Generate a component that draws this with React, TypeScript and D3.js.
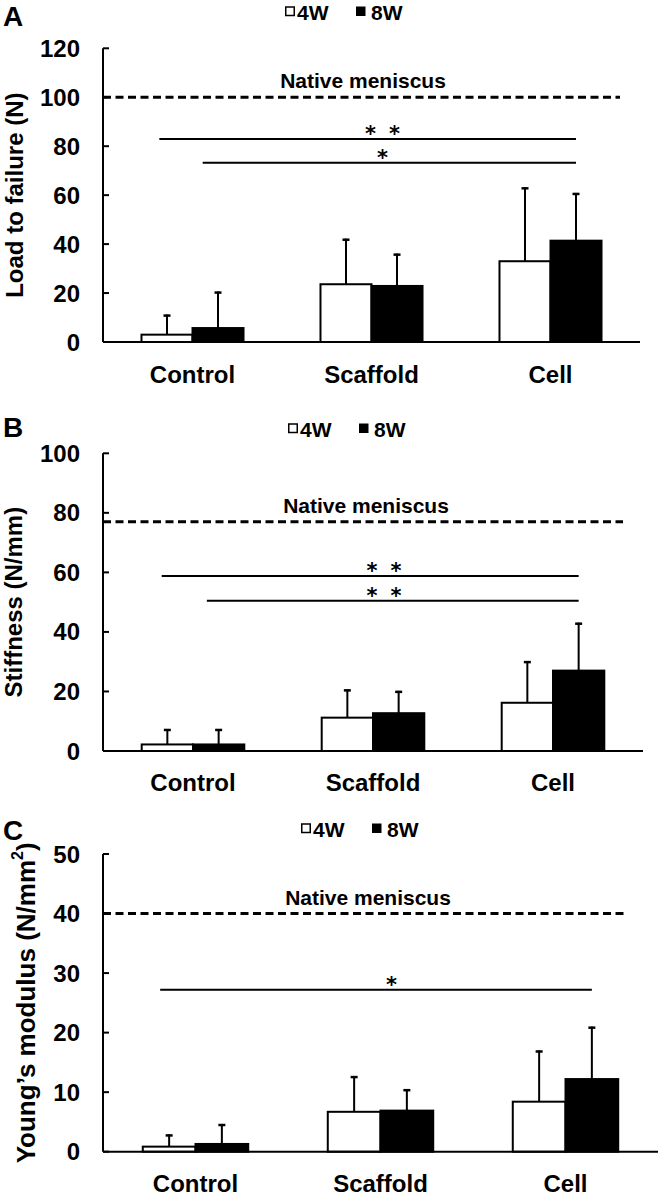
import React from "react";
import * as d3 from "d3";

// ---------- data ----------
const categories = ["Control", "Scaffold", "Cell"];
const seriesNames = ["4W", "8W"];

// Panel A: Load to failure (N)
const loadMean4W = [3.0, 23.6, 33.0];
const loadErr4W = [8.2, 18.6, 30.2];
const loadMean8W = [5.7, 22.9, 41.4];
const loadErr8W = [14.9, 13.2, 19.5];
const loadNative = 100;
const loadTicks = [0, 20, 40, 60, 80, 100, 120];
const loadSig = [
  { value: 82.9, stars: 2, fromCat: "Control", fromSeries: "4W", fromOff: 0.35 },
  { value: 73.2, stars: 1, fromCat: "Control", fromSeries: "8W", fromOff: 0.2 },
];

// Panel B: Stiffness (N/mm)
const stiffMean4W = [2.2, 11.2, 16.2];
const stiffErr4W = [5.2, 9.5, 14.0];
const stiffMean8W = [2.2, 12.7, 27.0];
const stiffErr8W = [5.2, 7.5, 16.1];
const stiffNative = 77;
const stiffTicks = [0, 20, 40, 60, 80, 100];
const stiffSig = [
  { value: 58.8, stars: 2, fromCat: "Control", fromSeries: "4W", fromOff: 0.39 },
  { value: 50.5, stars: 2, fromCat: "Control", fromSeries: "8W", fromOff: 0.27 },
];

// Panel C: Young's modulus (N/mm2)
const youngMean4W = [0.85, 6.7, 8.4];
const youngErr4W = [2.05, 6.0, 8.6];
const youngMean8W = [1.3, 6.9, 12.2];
const youngErr8W = [3.35, 3.6, 8.8];
const youngNative = 40;
const youngTicks = [0, 10, 20, 30, 40, 50];
const youngSig = [
  { value: 27.2, stars: 1, fromCat: "Control", fromSeries: "4W", fromOff: 0.33 },
];

const FONT = "'Liberation Sans', Arial, Helvetica, sans-serif";
const STAR_FONT = "'DejaVu Sans', 'Liberation Sans', sans-serif";

type Sig = { value: number; stars: number; fromCat: string; fromSeries: string; fromOff: number };

type PanelProps = {
  letter: string;
  letterY: number;
  legendY: number;
  legendX: number;
  title: React.ReactNode;
  titleX: number;
  titleSize: number;
  yTop: number;
  yBottom: number;
  xEnd: number;
  yMax: number;
  ticks: number[];
  mean4: number[];
  err4: number[];
  mean8: number[];
  err8: number[];
  native: number;
  nativeEnd: number;
  nativeLabelX: number;
  sig: Sig[];
  catLabelDy: number;
};

const AXIS_X = 103;

function Panel(p: PanelProps) {
  const y = d3.scaleLinear().domain([0, p.yMax]).range([p.yBottom, p.yTop]);
  const x0 = d3
    .scaleBand<string>()
    .domain(categories)
    .range([AXIS_X, p.xEnd])
    .paddingInner(0.43)
    .paddingOuter(0.215);
  const x1 = d3.scaleBand<string>().domain(seriesNames).range([0, x0.bandwidth()]);
  const bw = x1.bandwidth();

  const series = [
    { name: "4W", mean: p.mean4, err: p.err4, fill: "#fff" },
    { name: "8W", mean: p.mean8, err: p.err8, fill: "#000" },
  ];

  const endX = (x0("Cell") as number) + (x1("8W") as number) + bw / 2;
  const starCenter = (x0("Scaffold") as number) + x0.bandwidth() / 2 + 11;

  return (
    <g fontFamily={FONT} fontWeight="bold">
      {/* panel letter */}
      <text x={3} y={p.letterY} fontSize={28}>
        {p.letter}
      </text>
      {/* legend */}
      <g transform={`translate(${p.legendX},${p.legendY})`}>
        <rect x={0.75} y={-13} width={8.5} height={8.5} fill="#fff" stroke="#000" strokeWidth={1.5} />
        <text x={12} y={0} fontSize={21}>
          4W
        </text>
        <rect x={71} y={-13.5} width={9.5} height={9.5} fill="#000" />
        <text x={86} y={0} fontSize={21}>
          8W
        </text>
      </g>
      {/* y axis title */}
      <text
        transform={`translate(${p.titleX},${(p.yTop + p.yBottom) / 2}) rotate(-90)`}
        textAnchor="middle"
        dominantBaseline="central"
        fontSize={p.titleSize}
      >
        {p.title}
      </text>
      {/* y axis */}
      <line x1={AXIS_X} x2={AXIS_X} y1={y(p.yMax)} y2={y(0)} stroke="#000" strokeWidth={2} />
      {p.ticks.map((t) => (
        <g key={t}>
          <line x1={AXIS_X} x2={AXIS_X + 6} y1={y(t)} y2={y(t)} stroke="#000" strokeWidth={2} />
          <text x={80} y={y(t)} textAnchor="end" dominantBaseline="central" fontSize={24}>
            {t}
          </text>
        </g>
      ))}
      {/* native meniscus */}
      <line
        x1={AXIS_X}
        x2={p.nativeEnd}
        y1={y(p.native)}
        y2={y(p.native)}
        stroke="#000"
        strokeWidth={3}
        strokeDasharray="8,4.5"
      />
      <text x={p.nativeLabelX} y={y(p.native) - 9} textAnchor="middle" fontSize={21}>
        Native meniscus
      </text>
      {/* significance */}
      {p.sig.map((s, i) => {
        const sx = (x0(s.fromCat) as number) + (x1(s.fromSeries) as number) + bw * s.fromOff;
        const yy = y(s.value);
        const starXs = s.stars === 2 ? [starCenter - 12, starCenter + 12] : [starCenter];
        return (
          <g key={i}>
            <line x1={sx} x2={endX} y1={yy} y2={yy} stroke="#000" strokeWidth={2} />
            {starXs.map((sxx, j) => (
              <text
                key={j}
                x={sxx}
                y={yy + 2}
                textAnchor="middle"
                fontSize={21}
                fontFamily={STAR_FONT}
              >
                *
              </text>
            ))}
          </g>
        );
      })}
      {/* bars + error bars */}
      {series.map((s) =>
        categories.map((c, i) => {
          const bx = (x0(c) as number) + (x1(s.name) as number);
          const top = y(s.mean[i]);
          const et = y(s.mean[i] + s.err[i]);
          const cx = bx + bw / 2;
          return (
            <g key={s.name + c}>
              <line x1={cx} x2={cx} y1={top} y2={et} stroke="#000" strokeWidth={2} />
              <line x1={cx - 3.5} x2={cx + 3.5} y1={et + 1} y2={et + 1} stroke="#000" strokeWidth={2.5} />
              <rect
                x={bx}
                y={top}
                width={bw}
                height={y(0) - top}
                fill={s.fill}
                stroke="#000"
                strokeWidth={2}
              />
            </g>
          );
        })
      )}
      {/* x axis */}
      <line x1={AXIS_X} x2={p.xEnd} y1={y(0)} y2={y(0)} stroke="#000" strokeWidth={2} />
      {categories.map((c) => (
        <text
          key={c}
          x={(x0(c) as number) + x0.bandwidth() / 2}
          y={y(0) + p.catLabelDy}
          textAnchor="middle"
          fontSize={24}
        >
          {c}
        </text>
      ))}
    </g>
  );
}

export default function App() {
  return (
    <svg
      width={660}
      height={1196}
      viewBox="0 0 660 1196"
      style={{ position: "absolute", left: 0, top: 0, background: "#fff" }}
    >
      <rect width={660} height={1196} fill="#fff" />
      <Panel
        letter="A"
        letterY={26}
        legendX={285}
        legendY={20}
        title="Load to failure (N)"
        titleX={14}
        titleSize={24}
        yTop={48.3}
        yBottom={342}
        xEnd={640}
        yMax={120}
        ticks={loadTicks}
        mean4={loadMean4W}
        err4={loadErr4W}
        mean8={loadMean8W}
        err8={loadErr8W}
        native={loadNative}
        nativeEnd={620}
        nativeLabelX={363}
        sig={loadSig}
        catLabelDy={41}
      />
      <Panel
        letter="B"
        letterY={437}
        legendX={288}
        legendY={437}
        title="Stiffness (N/mm)"
        titleX={13}
        titleSize={24}
        yTop={453.3}
        yBottom={751}
        xEnd={643}
        yMax={100}
        ticks={stiffTicks}
        mean4={stiffMean4W}
        err4={stiffErr4W}
        mean8={stiffMean8W}
        err8={stiffErr8W}
        native={stiffNative}
        nativeEnd={623}
        nativeLabelX={366}
        sig={stiffSig}
        catLabelDy={40}
      />
      <Panel
        letter="C"
        letterY={840}
        legendX={301}
        legendY={837}
        title={
          <>
            Young’s modulus (N/mm
            <tspan baselineShift="super" fontSize={16}>
              2
            </tspan>
            )
          </>
        }
        titleX={26}
        titleSize={26}
        yTop={854}
        yBottom={1151.7}
        xEnd={658}
        yMax={50}
        ticks={youngTicks}
        mean4={youngMean4W}
        err4={youngErr4W}
        mean8={youngMean8W}
        err8={youngErr8W}
        native={youngNative}
        nativeEnd={625}
        nativeLabelX={368}
        sig={youngSig}
        catLabelDy={40}
      />
    </svg>
  );
}
